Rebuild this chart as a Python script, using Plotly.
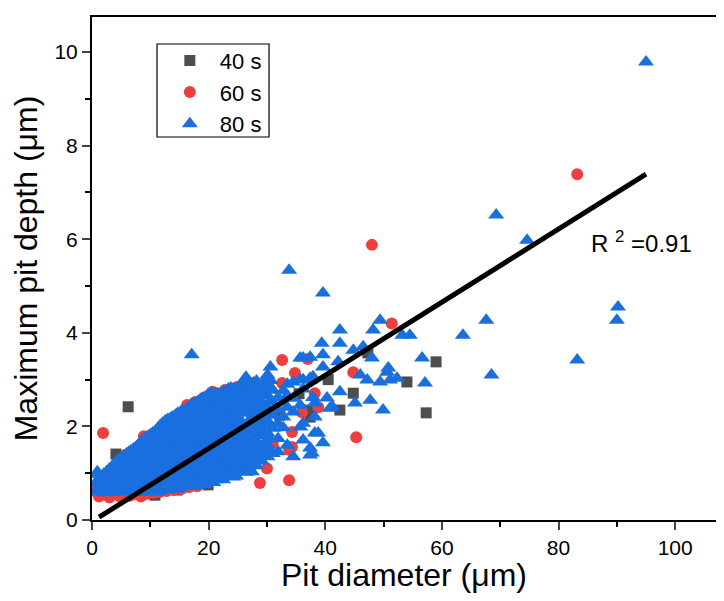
import plotly.graph_objects as go

# 40 s (gray squares)
d40_x = [6.2, 4.1, 59.0, 57.3, 54.0, 47.3, 44.8, 42.5, 32.2, 29.2, 19.9, 10.8,
         14.6, 8.2, 37.4, 37.4, 25.5, 22.0, 3.0, 12.0, 16.0, 28.0, 35.5, 40.5]
d40_y = [2.42, 1.41, 3.38, 2.29, 2.95, 3.57, 2.71, 2.35, 2.24, 1.86, 0.75, 0.53,
         0.64, 0.58, 2.35, 2.2, 1.4, 1.9, 0.8, 1.2, 1.6, 2.5, 2.7, 3.0]

# 60 s (red circles)
d60_x = [0.5, 1.2, 2.0, 3.0, 3.8, 4.8, 5.6, 6.5, 7.4, 8.4, 9.5, 10.6, 11.6, 12.8,
         14.0, 15.3, 16.6, 18.0,
         1.9, 5.7, 6.9, 8.9, 11.0, 13.0, 14.8, 16.3, 17.7, 19.2, 20.7, 22.8, 24.9,
         26.0, 27.5,
         32.6, 34.8, 32.6, 38.2, 38.8, 33.8, 28.8, 33.8, 31.0, 22.5, 48.0, 51.4,
         45.3, 83.2, 44.8, 37.0, 34.3, 34.3, 29.5, 30.0, 36.0,
         4.0, 8.0, 12.0, 16.0, 20.0, 24.0, 26.0]
d60_y = [0.62, 0.5, 0.55, 0.48, 0.56, 0.5, 0.57, 0.52, 0.55, 0.5, 0.56, 0.58, 0.6, 0.62,
         0.64, 0.66, 0.7, 0.72,
         1.86, 1.39, 1.43, 1.79, 1.85, 2.05, 2.2, 2.46, 2.52, 2.62, 2.74, 2.78, 2.84,
         2.8, 2.92,
         3.42, 3.14, 2.93, 2.71, 2.41, 1.5, 0.79, 0.85, 1.65, 1.0, 5.88, 4.2,
         1.77, 7.39, 3.16, 3.44, 1.88, 1.56, 2.9, 1.1, 2.3,
         0.9, 1.2, 1.4, 1.7, 2.0, 2.2, 1.6]

# 80 s (blue triangles)
d80_x = [
    0.8, 0.8, 0.8,
    1.6, 1.6, 1.6,
    2.5, 2.5, 2.5, 2.5,
    3.3, 3.3, 3.3, 3.3,
    4.1, 4.1, 4.1, 4.1, 4.1,
    5.0, 5.0, 5.0, 5.0, 5.0,
    5.9, 5.9, 5.9, 5.9, 5.9,
    6.7, 6.7, 6.7, 6.7, 6.7, 6.7,
    7.5, 7.5, 7.5, 7.5, 7.5, 7.5,
    8.3, 8.3, 8.3, 8.3, 8.3, 8.3, 8.3,
    9.2, 9.2, 9.2, 9.2, 9.2, 9.2, 9.2,
    10.0, 10.0, 10.0, 10.0, 10.0, 10.0, 10.0,
    10.9, 10.9, 10.9, 10.9, 10.9, 10.9, 10.9,
    11.7, 11.7, 11.7, 11.7, 11.7, 11.7, 11.7, 11.7,
    12.6, 12.6, 12.6, 12.6, 12.6, 12.6, 12.6, 12.6,
    13.4, 13.4, 13.4, 13.4, 13.4, 13.4, 13.4, 13.4,
    14.3, 14.3, 14.3, 14.3, 14.3, 14.3, 14.3, 14.3,
    15.2, 15.2, 15.2, 15.2, 15.2, 15.2, 15.2, 15.2, 15.2,
    16.0, 16.0, 16.0, 16.0, 16.0, 16.0, 16.0, 16.0,
    16.9, 16.9, 16.9, 16.9, 16.9, 16.9, 16.9, 16.9, 16.9,
    17.8, 17.8, 17.8, 17.8, 17.8, 17.8, 17.8, 17.8, 17.8,
    18.7, 18.7, 18.7, 18.7, 18.7, 18.7, 18.7, 18.7, 18.7,
    19.5, 19.5, 19.5, 19.5, 19.5, 19.5, 19.5, 19.5, 19.5,
    20.4, 20.4, 20.4, 20.4, 20.4, 20.4, 20.4, 20.4, 20.4,
    21.2, 21.2, 21.2, 21.2, 21.2, 21.2, 21.2, 21.2, 21.2,
    22.1, 22.1, 22.1, 22.1, 22.1, 22.1, 22.1, 22.1, 22.1,
    23.0, 23.0, 23.0, 23.0, 23.0, 23.0, 23.0, 23.0, 23.0,
    23.8, 23.8, 23.8, 23.8, 23.8, 23.8, 23.8, 23.8, 23.8,
    24.7, 24.7, 24.7, 24.7, 24.7, 24.7, 24.7, 24.7, 24.7,
    25.5, 25.5, 25.5, 25.5, 25.5, 25.5, 25.5, 25.5,
    26.4, 26.4, 26.4, 26.4, 26.4, 26.4, 26.4, 26.4,
    27.3, 27.3, 27.3, 27.3, 27.3, 27.3, 27.3, 27.3,
    28.2, 28.2, 28.2, 28.2, 28.2, 28.2, 28.2, 28.2,
    29.1, 29.1, 29.1, 29.1, 29.1, 29.1, 29.1,
    30.1, 30.1, 30.1, 30.1, 30.1, 30.1, 30.1, 30.1,
    30.6, 30.6,
    31.0, 31.0, 31.0, 31.0, 31.0,
    31.9, 31.9, 31.9, 31.9, 31.9,
    32.8, 32.8, 32.8, 32.8,
    33.5, 33.5, 33.5, 33.5,
    34.5, 34.5, 34.5, 34.5,
    35.7, 35.7, 35.7, 35.7,
    36.2, 36.2, 36.2, 36.2, 36.2,
    37.4, 37.4, 37.4, 37.4, 37.4,
    37.9, 37.9,
    38.2, 38.2, 38.2,
    38.8, 39.4, 39.6, 39.6, 39.6, 40.3, 40.8, 41.2, 42.2, 42.5,
    42.5, 42.5, 44.8, 45.1, 46.0, 46.5, 47.2, 47.7, 48.0, 48.2,
    49.4, 49.4, 49.9, 50.6, 50.8, 52.3, 53.2, 54.5, 56.6, 57.1,
    51.1, 63.6, 67.6, 68.5, 69.3, 74.6, 83.2, 90.0, 90.2, 95.0,
    17.1, 33.8, 39.6, 37.7, 24.2, 27.4, 18.2, 0.9,
    # staggered columns in the dense part
    1.2, 1.2,
    2.0, 2.0, 2.0,
    2.9, 2.9, 2.9, 2.9,
    3.7, 3.7, 3.7, 3.7, 3.7,
    4.5, 4.5, 4.5, 4.5, 4.5,
    5.4, 5.4, 5.4, 5.4, 5.4,
    6.3, 6.3, 6.3, 6.3, 6.3, 6.3,
    7.1, 7.1, 7.1, 7.1, 7.1, 7.1,
    7.9, 7.9, 7.9, 7.9, 7.9, 7.9, 7.9,
    8.7, 8.7, 8.7, 8.7, 8.7, 8.7, 8.7,
    9.6, 9.6, 9.6, 9.6, 9.6, 9.6, 9.6, 9.6,
    10.4, 10.4, 10.4, 10.4, 10.4, 10.4, 10.4,
    11.3, 11.3, 11.3, 11.3, 11.3, 11.3, 11.3, 11.3,
    12.1, 12.1, 12.1, 12.1, 12.1, 12.1, 12.1, 12.1,
    13.0, 13.0, 13.0, 13.0, 13.0, 13.0, 13.0, 13.0, 13.0,
    13.8, 13.8, 13.8, 13.8, 13.8, 13.8, 13.8, 13.8,
    14.7, 14.7, 14.7, 14.7, 14.7, 14.7, 14.7, 14.7, 14.7,
    15.6, 15.6, 15.6, 15.6, 15.6, 15.6, 15.6, 15.6, 15.6, 15.6,
    16.4, 16.4, 16.4, 16.4, 16.4, 16.4, 16.4, 16.4,
    17.3, 17.3, 17.3, 17.3, 17.3, 17.3, 17.3, 17.3, 17.3, 17.3,
    18.2, 18.2, 18.2, 18.2, 18.2, 18.2, 18.2, 18.2, 18.2,
    19.1, 19.1, 19.1, 19.1, 19.1, 19.1, 19.1, 19.1, 19.1, 19.1,
    19.9, 19.9, 19.9, 19.9, 19.9, 19.9, 19.9, 19.9, 19.9,
    20.8, 20.8, 20.8, 20.8, 20.8, 20.8, 20.8, 20.8, 20.8, 20.8,
    21.6, 21.6, 21.6, 21.6, 21.6, 21.6, 21.6, 21.6, 21.6,
    22.5, 22.5, 22.5, 22.5, 22.5, 22.5, 22.5, 22.5, 22.5, 22.5,
    23.4, 23.4, 23.4, 23.4, 23.4, 23.4, 23.4, 23.4, 23.4,
    24.2, 24.2, 24.2, 24.2, 24.2, 24.2, 24.2, 24.2, 24.2, 24.2,
    25.1, 25.1, 25.1, 25.1, 25.1, 25.1, 25.1, 25.1, 25.1,
    25.9, 25.9, 25.9, 25.9, 25.9, 25.9, 25.9, 25.9,
    26.8, 26.8, 26.8, 26.8, 26.8, 26.8, 26.8,
    27.7, 27.7, 27.7, 27.7, 27.7, 27.7, 27.7, 27.7,
    28.6, 28.6, 28.6, 28.6, 28.6, 28.6, 28.6,
    29.6, 29.6, 29.6, 29.6, 29.6, 29.6, 29.6, 29.6,
    30.5, 30.5, 30.5, 30.5, 30.5, 30.5, 30.5,
]
d80_y = [
    0.62, 0.8, 0.98,
    0.6, 0.76, 0.92,
    0.58, 0.73, 0.88, 1.03,
    0.66, 0.82, 0.99, 1.12,
    0.6, 0.77, 0.95, 1.1, 1.24,
    0.63, 0.81, 0.98, 1.16, 1.33,
    0.67, 0.86, 1.05, 1.23, 1.41,
    0.6, 0.78, 0.96, 1.14, 1.31, 1.48,
    0.64, 0.83, 1.01, 1.2, 1.38, 1.55,
    0.6, 0.78, 0.97, 1.16, 1.35, 1.52, 1.66,
    0.65, 0.84, 1.04, 1.24, 1.44, 1.61, 1.75,
    0.62, 0.81, 1.0, 1.21, 1.41, 1.6, 1.82,
    0.67, 0.88, 1.09, 1.3, 1.51, 1.72, 1.9,
    0.64, 0.85, 1.06, 1.26, 1.46, 1.66, 1.86, 2.02,
    0.68, 0.9, 1.12, 1.33, 1.55, 1.76, 1.96, 2.12,
    0.7, 0.92, 1.14, 1.36, 1.58, 1.8, 2.0, 2.17,
    0.73, 0.95, 1.18, 1.4, 1.62, 1.85, 2.05, 2.24,
    0.7, 0.93, 1.16, 1.38, 1.6, 1.82, 2.03, 2.21, 2.31,
    0.76, 1.0, 1.22, 1.45, 1.68, 1.9, 2.12, 2.34,
    0.78, 1.01, 1.24, 1.46, 1.7, 1.92, 2.14, 2.36, 2.45,
    0.74, 0.98, 1.2, 1.44, 1.66, 1.9, 2.12, 2.34, 2.5,
    0.8, 1.04, 1.28, 1.5, 1.74, 1.98, 2.2, 2.42, 2.57,
    0.78, 1.02, 1.26, 1.5, 1.72, 1.96, 2.2, 2.44, 2.63,
    0.84, 1.08, 1.32, 1.56, 1.8, 2.04, 2.28, 2.5, 2.72,
    0.86, 1.1, 1.34, 1.58, 1.82, 2.06, 2.3, 2.52, 2.68,
    0.9, 1.14, 1.38, 1.62, 1.86, 2.1, 2.34, 2.56, 2.7,
    0.93, 1.16, 1.4, 1.66, 1.9, 2.14, 2.38, 2.6, 2.76,
    0.98, 1.2, 1.44, 1.7, 1.94, 2.18, 2.42, 2.64, 2.82,
    0.94, 1.24, 1.5, 1.76, 2.0, 2.24, 2.48, 2.7, 2.8,
    1.06, 1.3, 1.56, 1.84, 2.28, 2.52, 2.74, 2.88,
    1.02, 1.28, 1.5, 1.88, 2.3, 2.56, 2.8, 3.05,
    1.04, 1.36, 1.62, 1.9, 2.12, 2.38, 2.62, 2.88,
    1.16, 1.42, 1.68, 1.94, 2.2, 2.44, 2.68, 2.97,
    1.26, 1.5, 1.8, 2.02, 2.28, 2.52, 2.78,
    1.35, 1.6, 1.86, 2.12, 2.4, 2.66, 2.9, 3.1,
    3.27, 2.98,
    1.42, 1.96, 2.24, 2.52, 2.78,
    1.46, 1.74, 2.06, 2.36, 2.62,
    1.97, 2.2, 2.5, 2.76,
    1.6, 2.41, 2.66, 2.9,
    1.35, 2.31, 2.6, 2.95,
    1.99, 2.45, 3.0, 3.46,
    1.71, 2.07, 3.46, 2.8, 3.0,
    1.39, 1.54, 3.03, 3.48, 2.99,
    3.06, 2.62,
    2.2, 2.5, 1.86,
    1.86, 3.78, 3.53, 3.27, 1.65, 2.61, 2.39, 2.42, 3.38, 4.06,
    3.78, 2.74, 3.63, 2.5, 3.1, 3.7, 2.99, 2.56, 3.46, 4.06,
    4.27, 2.95, 2.35, 3.16, 3.25, 3.03, 3.95, 3.95, 3.46, 2.93,
    2.99, 3.95, 4.27, 3.1, 6.52, 5.98, 3.42, 4.27, 4.55, 9.79,
    3.53, 5.34, 4.85, 1.43, 0.92, 1.03, 0.75, 1.03,
    # staggered columns in the dense part
    0.71, 0.89,
    0.68, 0.84, 0.98,
    0.65, 0.8, 0.95, 1.08,
    0.6, 0.74, 0.9, 1.05, 1.18,
    0.68, 0.86, 1.02, 1.17, 1.28,
    0.72, 0.9, 1.07, 1.24, 1.37,
    0.62, 0.76, 0.95, 1.14, 1.32, 1.45,
    0.69, 0.87, 1.05, 1.22, 1.4, 1.52,
    0.6, 0.73, 0.92, 1.1, 1.29, 1.46, 1.6,
    0.69, 0.88, 1.06, 1.25, 1.44, 1.59, 1.71,
    0.6, 0.74, 0.94, 1.14, 1.34, 1.52, 1.68, 1.79,
    0.71, 0.9, 1.1, 1.31, 1.5, 1.7, 1.86,
    0.6, 0.77, 0.98, 1.2, 1.4, 1.61, 1.81, 1.96,
    0.74, 0.95, 1.16, 1.36, 1.56, 1.76, 1.94, 2.07,
    0.64, 0.79, 1.01, 1.22, 1.44, 1.66, 1.86, 2.04, 2.15,
    0.81, 1.03, 1.25, 1.47, 1.69, 1.9, 2.08, 2.2,
    0.66, 0.84, 1.06, 1.29, 1.51, 1.73, 1.95, 2.14, 2.28,
    0.73, 0.82, 1.04, 1.27, 1.49, 1.71, 1.93, 2.12, 2.26, 2.34,
    0.88, 1.11, 1.34, 1.56, 1.79, 2.01, 2.23, 2.4,
    0.72, 0.9, 1.12, 1.35, 1.58, 1.81, 2.03, 2.25, 2.42, 2.48,
    0.86, 1.09, 1.32, 1.55, 1.78, 2.01, 2.23, 2.42, 2.54,
    0.76, 0.92, 1.16, 1.39, 1.62, 1.86, 2.09, 2.31, 2.5, 2.6,
    0.9, 1.14, 1.38, 1.61, 1.84, 2.08, 2.32, 2.54, 2.68,
    0.8, 0.96, 1.2, 1.44, 1.68, 1.92, 2.16, 2.39, 2.61, 2.7,
    0.98, 1.22, 1.46, 1.7, 1.94, 2.18, 2.41, 2.6, 2.7,
    0.86, 1.02, 1.26, 1.5, 1.74, 1.98, 2.22, 2.45, 2.63, 2.74,
    1.05, 1.28, 1.53, 1.78, 2.02, 2.26, 2.49, 2.68, 2.8,
    0.95, 1.09, 1.32, 1.57, 1.82, 2.06, 2.3, 2.53, 2.73, 2.8,
    1.09, 1.37, 1.63, 1.88, 2.12, 2.36, 2.59, 2.76, 2.84,
    1.18, 1.43, 1.7, 2.06, 2.4, 2.63, 2.82, 2.95,
    1.15, 1.39, 1.69, 2.09, 2.43, 2.68, 2.9,
    1.2, 1.49, 1.76, 2.01, 2.25, 2.5, 2.75, 2.93,
    1.29, 1.55, 1.81, 2.07, 2.32, 2.56, 2.83,
    1.38, 1.65, 1.91, 2.15, 2.4, 2.65, 2.86, 3.0,
    1.47, 1.73, 1.99, 2.26, 2.53, 2.78, 3.0,
]

# linear fit end points
fit_x = [1.2, 95.0]
fit_y = [0.06, 7.39]
r2_label = "R <sup>2</sup> =0.91"

font = "Liberation Sans, Arial, sans-serif"

fig = go.Figure()
fig.add_trace(go.Scatter(x=d40_x, y=d40_y, mode="markers", name="40 s",
                         marker=dict(symbol="square", size=11, color="#4d4d4d")))
fig.add_trace(go.Scatter(x=d60_x, y=d60_y, mode="markers", name="60 s",
                         marker=dict(symbol="circle", size=12, color="#ef3e3e")))
fig.add_trace(go.Scatter(x=d80_x, y=d80_y, mode="markers", name="80 s",
                         marker=dict(symbol="triangle-up", size=14, color="#1a6fdf")))
fig.add_trace(go.Scatter(x=fit_x, y=fit_y, mode="lines", showlegend=False,
                         line=dict(color="black", width=5)))

fig.add_annotation(x=85.3, y=5.94, xref="x", yref="y", text=r2_label,
                   showarrow=False, xanchor="left", yanchor="middle",
                   font=dict(family=font, size=24, color="black"))

# legend frame drawn as a shape so the padding can match
fig.add_shape(type="rect", xref="paper", yref="paper",
              x0=0.1042, x1=0.2837, y0=0.7614, y1=0.9463,
              line=dict(color="black", width=1.2), fillcolor="rgba(0,0,0,0)")

fig.update_layout(
    width=708, height=585,
    margin=dict(l=84, r=0, t=9, b=73),
    plot_bgcolor="white", paper_bgcolor="white",
    font=dict(family=font, color="black"),
    legend=dict(x=0.1087, y=0.955, xanchor="left", yanchor="top",
                borderwidth=0, bgcolor="rgba(0,0,0,0)", itemwidth=50,
                font=dict(family=font, size=22)),
)
fig.update_xaxes(range=[0, 107.0], showgrid=False, zeroline=False, automargin=False,
                 showline=True, linecolor="black", linewidth=2, mirror=True,
                 ticks="outside", ticklen=8, tickwidth=2, dtick=20,
                 minor=dict(ticks="outside", ticklen=5, tickwidth=2, dtick=10, tickcolor="black"),
                 tickfont=dict(size=21),
                 title=dict(text="Pit diameter (μm)", font=dict(size=32), standoff=6))
fig.update_yaxes(range=[0, 10.75], showgrid=False, zeroline=False, automargin=False,
                 showline=True, linecolor="black", linewidth=2, mirror=False,
                 ticks="outside", ticklen=8, tickwidth=2, dtick=2,
                 minor=dict(ticks="outside", ticklen=5, tickwidth=2, dtick=1, tickcolor="black"),
                 tickfont=dict(size=21),
                 title=dict(text="Maximum pit depth (μm)", font=dict(size=32), standoff=16))

fig.write_html("out.html")
